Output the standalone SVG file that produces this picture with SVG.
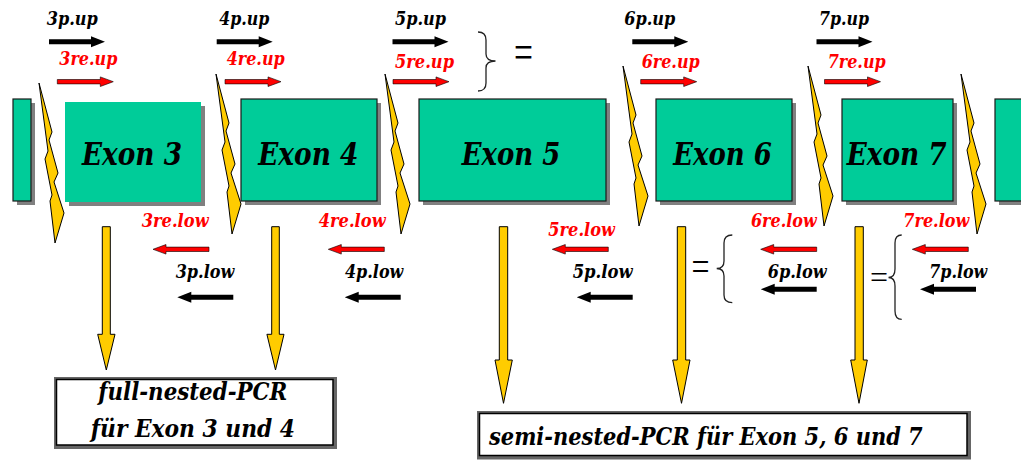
<svg xmlns="http://www.w3.org/2000/svg" xmlns:xlink="http://www.w3.org/1999/xlink" width="1021" height="463" viewBox="0 0 1021 463">
<style>
text{font-family:'DejaVu Serif','Liberation Serif',serif}
.exon{fill:#00CC99;stroke:#1a1a1a;stroke-width:1.2}
.shadow{fill:#808080}
.bolt{fill:#FFCC00;stroke:#000;stroke-width:1}
.yarrow{fill:#FFCC00;stroke:#000;stroke-width:1}
.ex{font-weight:bold;font-style:italic;font-size:32px;fill:#000}
.pl{font-weight:bold;font-style:italic;font-size:18.5px;fill:#000}
.rl{font-weight:bold;font-style:italic;font-size:18.5px;fill:#FF0000}
.bx{font-weight:bold;font-style:italic;font-size:24px;fill:#000}
text.eq{font-family:'Liberation Serif','Times New Roman',serif;font-weight:normal;font-size:32px;fill:#000}
.brace{fill:none;stroke:#222;stroke-width:1.3}
.ba{fill:#000}
.ra{fill:#FF0000;stroke:#000;stroke-width:0.6}
.frame{fill:#666}
.inner{fill:#fff;stroke:#000;stroke-width:1.5}
</style>
<defs>
<path id="bolt" d="M0,0 L13,49 L10,57 L19,90 L15,99 L25,130 L16,160 L11,118 L13,112 L6,76 L9,68 Z"/>
<path id="barr" d="M0,-2.5 H42 V-5.5 L56,0 L42,5.5 V2.5 H0 Z"/>
<path id="rarr" d="M0,-2.2 H43 V-4.8 L56,0 L43,4.8 V2.2 H0 Z"/>
</defs>

<g id="exons">
<g id="stub-left">
<rect class="shadow" x="17" y="103" width="18" height="102"/>
<rect class="exon" x="13" y="99" width="18" height="102"/>
</g>
<g id="exon3">
<rect class="shadow" x="69" y="106" width="136" height="100"/>
<rect x="65" y="102" width="136" height="100" fill="#00CC99"/>
<text class="ex" x="82" y="165" textLength="100" lengthAdjust="spacingAndGlyphs">Exon 3</text>
</g>
<g id="exon4">
<rect class="shadow" x="245" y="103" width="136" height="102"/>
<rect class="exon" x="241" y="99" width="136" height="102"/>
<text class="ex" x="258.3" y="165" textLength="100" lengthAdjust="spacingAndGlyphs">Exon 4</text>
</g>
<g id="exon5">
<rect class="shadow" x="423" y="103" width="187" height="102"/>
<rect class="exon" x="419" y="99" width="187" height="102"/>
<text class="ex" x="461.7" y="165" textLength="98.5" lengthAdjust="spacingAndGlyphs">Exon 5</text>
</g>
<g id="exon6">
<rect class="shadow" x="660" y="103" width="136" height="102"/>
<rect class="exon" x="656" y="99" width="136" height="102"/>
<text class="ex" x="673.3" y="165" textLength="98.5" lengthAdjust="spacingAndGlyphs">Exon 6</text>
</g>
<g id="exon7">
<rect class="shadow" x="846" y="103" width="111" height="102"/>
<rect class="exon" x="842" y="99" width="111" height="102"/>
<text class="ex" x="846.7" y="165" textLength="100" lengthAdjust="spacingAndGlyphs">Exon 7</text>
</g>
<g id="stub-right">
<rect class="shadow" x="999" y="103" width="30" height="102"/>
<rect class="exon" x="995" y="99" width="30" height="102"/>
</g>
</g>

<g id="bolts">
<use xlink:href="#bolt" href="#bolt" class="bolt" transform="translate(39,83)"/>
<use xlink:href="#bolt" href="#bolt" class="bolt" transform="translate(216,74)"/>
<use xlink:href="#bolt" href="#bolt" class="bolt" transform="translate(385,74)"/>
<use xlink:href="#bolt" href="#bolt" class="bolt" transform="translate(623,66)"/>
<use xlink:href="#bolt" href="#bolt" class="bolt" transform="translate(808,66)"/>
<use xlink:href="#bolt" href="#bolt" class="bolt" transform="translate(961,74)"/>
</g>

<g id="primers-up">
<text class="pl" x="46.7" y="25" textLength="51" lengthAdjust="spacingAndGlyphs">3p.up</text>
<use xlink:href="#barr" href="#barr" class="ba" transform="translate(49,41.7)"/>
<text class="rl" x="59.3" y="65" textLength="58" lengthAdjust="spacingAndGlyphs">3re.up</text>
<use xlink:href="#rarr" href="#rarr" class="ra" transform="translate(57.3,81.7)"/>

<text class="pl" x="219.3" y="25" textLength="50" lengthAdjust="spacingAndGlyphs">4p.up</text>
<use xlink:href="#barr" href="#barr" class="ba" transform="translate(216.7,41.7)"/>
<text class="rl" x="226.7" y="65" textLength="58" lengthAdjust="spacingAndGlyphs">4re.up</text>
<use xlink:href="#rarr" href="#rarr" class="ra" transform="translate(225,81.7)"/>

<text class="pl" x="395" y="25" textLength="51" lengthAdjust="spacingAndGlyphs">5p.up</text>
<use xlink:href="#barr" href="#barr" class="ba" transform="translate(392.5,41.7)"/>
<text class="rl" x="395" y="68" textLength="59" lengthAdjust="spacingAndGlyphs">5re.up</text>
<use xlink:href="#rarr" href="#rarr" class="ra" transform="translate(393,81.7)"/>

<text class="pl" x="624.3" y="25" textLength="51" lengthAdjust="spacingAndGlyphs">6p.up</text>
<use xlink:href="#barr" href="#barr" class="ba" transform="translate(632.3,41.7)"/>
<text class="rl" x="641.7" y="68" textLength="58" lengthAdjust="spacingAndGlyphs">6re.up</text>
<use xlink:href="#rarr" href="#rarr" class="ra" transform="translate(640.7,81.7)"/>

<text class="pl" x="819" y="25" textLength="50" lengthAdjust="spacingAndGlyphs">7p.up</text>
<use xlink:href="#barr" href="#barr" class="ba" transform="translate(816.5,41.7)"/>
<text class="rl" x="827.7" y="68" textLength="58" lengthAdjust="spacingAndGlyphs">7re.up</text>
<use xlink:href="#rarr" href="#rarr" class="ra" transform="translate(824.5,81.7)"/>

<path class="brace" d="M478,32 Q486,32 486,40 V54 Q486,61 495.5,61 Q486,61 486,68 V83 Q486,91 478,91"/>
<text class="eq" transform="translate(514,68.5) scale(1.05,1.6)">=</text>
</g>

<g id="primers-low">
<text class="rl" x="141.7" y="227.3" textLength="67" lengthAdjust="spacingAndGlyphs">3re.low</text>
<use xlink:href="#rarr" href="#rarr" class="ra" transform="translate(209,249.3) scale(-1,1)"/>
<text class="pl" x="175.7" y="278.3" textLength="58.6" lengthAdjust="spacingAndGlyphs">3p.low</text>
<use xlink:href="#barr" href="#barr" class="ba" transform="translate(233.3,297.3) scale(-1,1)"/>

<text class="rl" x="318.7" y="226.7" textLength="67" lengthAdjust="spacingAndGlyphs">4re.low</text>
<use xlink:href="#rarr" href="#rarr" class="ra" transform="translate(384.3,249.3) scale(-1,1)"/>
<text class="pl" x="345" y="278.3" textLength="58.3" lengthAdjust="spacingAndGlyphs">4p.low</text>
<use xlink:href="#barr" href="#barr" class="ba" transform="translate(400.7,297.3) scale(-1,1)"/>

<text class="rl" x="548.3" y="235.7" textLength="66.7" lengthAdjust="spacingAndGlyphs">5re.low</text>
<use xlink:href="#rarr" href="#rarr" class="ra" transform="translate(608.3,249.3) scale(-1,1)"/>
<text class="pl" x="572.7" y="278.3" textLength="60" lengthAdjust="spacingAndGlyphs">5p.low</text>
<use xlink:href="#barr" href="#barr" class="ba" transform="translate(632.7,297.3) scale(-1,1)"/>

<text class="rl" x="751" y="226.7" textLength="65.7" lengthAdjust="spacingAndGlyphs">6re.low</text>
<use xlink:href="#rarr" href="#rarr" class="ra" transform="translate(816.7,249.3) scale(-1,1)"/>
<text class="pl" x="767.7" y="278.3" textLength="59" lengthAdjust="spacingAndGlyphs">6p.low</text>
<use xlink:href="#barr" href="#barr" class="ba" transform="translate(816.7,289.3) scale(-1,1)"/>
<path class="brace" d="M732.3,235 Q724,235 724,243 V261 Q724,268.5 716.7,268.5 Q724,268.5 724,276 V295 Q724,302.7 732.3,302.7"/>
<text class="eq" transform="translate(691.5,280) scale(1,1.35)">=</text>

<text class="rl" x="903.3" y="226.7" textLength="66" lengthAdjust="spacingAndGlyphs">7re.low</text>
<use xlink:href="#rarr" href="#rarr" class="ra" transform="translate(968.3,249.3) scale(-1,1)"/>
<text class="pl" x="929.3" y="278.3" textLength="58" lengthAdjust="spacingAndGlyphs">7p.low</text>
<use xlink:href="#barr" href="#barr" class="ba" transform="translate(976,289.3) scale(-1,1)"/>
<path class="brace" d="M901.7,235 Q895,235 895,243 V269 Q895,277.5 888.5,277.5 Q895,277.5 895,286 V311 Q895,319.3 901.7,319.3"/>
<text class="eq" transform="translate(870,287.5)">=</text>
</g>

<g id="connectors">
<path class="yarrow" d="M102.3,226.7 H110.3 V334.3 H115 L106.3,370 L97.7,334.3 H102.3 Z"/>
<path class="yarrow" d="M271.7,226.7 H279.3 V334.3 H284 L275.5,370 L266.9,334.3 H271.7 Z"/>
<path class="yarrow" d="M499.3,226.7 H507.7 V360 H512.3 L503.5,403.3 L495,360 H499.3 Z"/>
<path class="yarrow" d="M677.3,226.7 H685.7 V360 H690 L681.5,403.3 L672.7,360 H677.3 Z"/>
<path class="yarrow" d="M855,226.7 H863.3 V360 H867.3 L859,403.3 L850.7,360 H855 Z"/>
</g>

<g id="box-full-nested">
<rect class="frame" x="54" y="377" width="283" height="72"/>
<rect class="inner" x="56.5" y="379.5" width="276.5" height="65.5"/>
<text class="bx" x="98.3" y="400" textLength="189" lengthAdjust="spacingAndGlyphs">full-nested-PCR</text>
<text class="bx" x="90.7" y="436.7" textLength="204.3" lengthAdjust="spacingAndGlyphs">für Exon 3 und 4</text>
</g>

<g id="box-semi-nested">
<rect class="frame" x="477" y="411" width="494" height="48.5"/>
<rect class="inner" x="479.5" y="413.5" width="487.5" height="42"/>
<text class="bx" x="489" y="445" textLength="433.7" lengthAdjust="spacingAndGlyphs">semi-nested-PCR für Exon 5, 6 und 7</text>
</g>
</svg>
